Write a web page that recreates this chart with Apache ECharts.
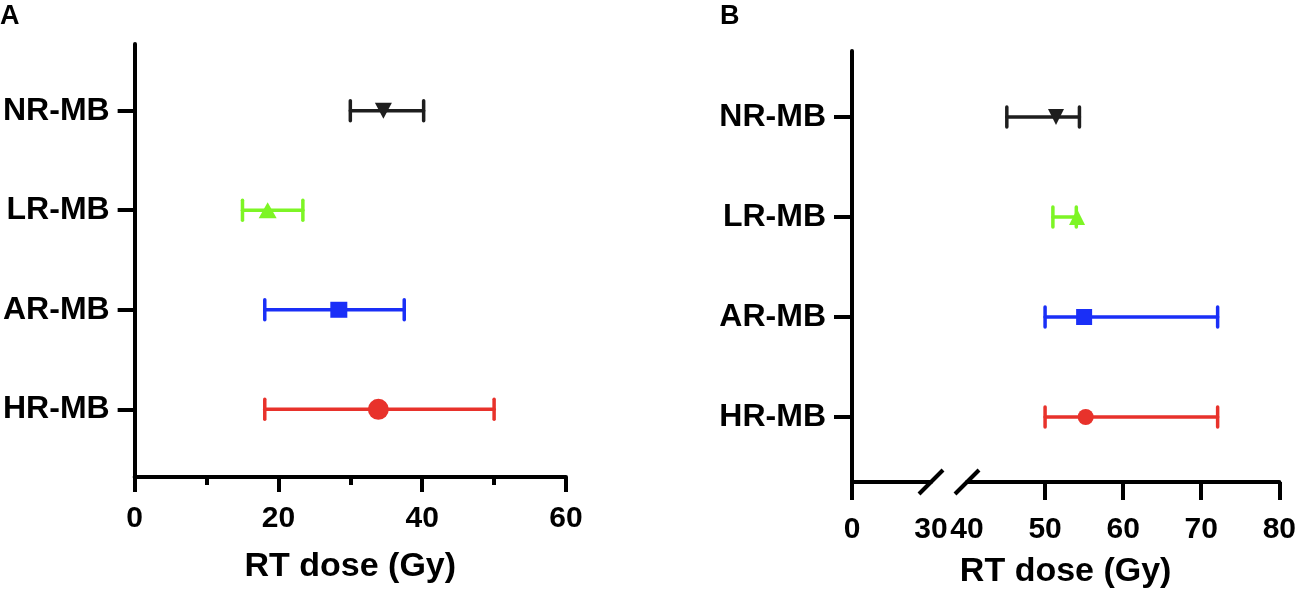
<!DOCTYPE html>
<html><head><meta charset="utf-8">
<script src="https://cdn.jsdelivr.net/npm/echarts@6/dist/echarts.min.js"></script>
<style>html,body{margin:0;padding:0;background:#fff}#c{width:1299px;height:601px}</style>
</head><body><div id="c"></div>
<script>
// ---- data ----
const categories = ['HR-MB', 'AR-MB', 'LR-MB', 'NR-MB'];
const catPos = [1, 2, 3, 4];
// Panel A (RT dose, Gy)
const aMean = [33.9, 28.4, 18.5, 34.6];
const aLow  = [18.1, 18.1, 15.0, 30.0];
const aHigh = [50.0, 37.5, 23.4, 40.2];
// Panel B (RT dose, Gy)
const bMean = [55.2, 55.0, 54.1, 51.4];
const bLow  = [50.0, 50.0, 51.0, 45.1];
const bHigh = [72.1, 72.1, 54.0, 54.4];
// tick labels
const aTickLabels = [0, 20, 40, 60];
const bLeftTickLabels = [0, 30];
const bRightTickLabels = [40, 50, 60, 70, 80];
const bRightTicks = [50, 60, 70, 80];
const axisTitle = 'RT dose (Gy)';

// ---- styles ----
const colors = ['#E8322B', '#1A2FF7', '#7DF525', '#1E1E1E'];
const symbols = ['circle', 'rect', 'triangle', 'triangle'];
const rotations = [0, 0, 0, 180];
const aSizes = [[21, 21], [17, 16], [18, 16], [17, 16]];
const bSizes = [[16, 16], [16, 16], [16, 16], [16, 16]];
const FONT = '"Liberation Sans", Arial, sans-serif';
const AX = '#000';

function errSeries(low, high, xi, yi) {
  return {
    type: 'custom', xAxisIndex: xi, yAxisIndex: yi, z: 2,
    data: low.map((l, i) => [l, high[i], catPos[i], i]),
    encode: { x: [0, 1], y: 2 },
    renderItem(params, api) {
      const lo = api.coord([api.value(0), api.value(2)]);
      const hi = api.coord([api.value(1), api.value(2)]);
      const h = 10;
      const style = { stroke: colors[api.value(3)], lineWidth: 3.5, lineCap: 'round' };
      return { type: 'group', children: [
        { type: 'line', shape: { x1: lo[0], y1: lo[1], x2: hi[0], y2: hi[1] }, style },
        { type: 'line', shape: { x1: lo[0], y1: lo[1] - h, x2: lo[0], y2: lo[1] + h }, style },
        { type: 'line', shape: { x1: hi[0], y1: hi[1] - h, x2: hi[0], y2: hi[1] + h }, style }
      ]};
    }
  };
}
function pointSeries(mean, sizes, xi, yi) {
  return {
    type: 'scatter', xAxisIndex: xi, yAxisIndex: yi, z: 5,
    data: mean.map((m, i) => ({
      value: [m, catPos[i]], symbol: symbols[i], symbolRotate: rotations[i],
      symbolSize: sizes[i], itemStyle: { color: colors[i], opacity: 1 }
    }))
  };
}
const labelStyle = { color: '#000', fontFamily: FONT, fontWeight: 'bold', fontSize: 30 };
const catLabel = { color: '#000', fontFamily: FONT, fontWeight: 'bold', fontSize: 32 };

const option = {
  animation: false,
  backgroundColor: '#fff',
  grid: [
    { left: 134, top: 44, width: 432, height: 433 },
    { left: 852, top: 51, width: 79, height: 431 },
    { left: 967, top: 51, width: 313, height: 431 }
  ],
  xAxis: [
    { type: 'value', gridIndex: 0, min: 0, max: 60, interval: 20,
      axisLine: { lineStyle: { color: AX, width: 4 } },
      axisTick: { length: 15, lineStyle: { color: AX, width: 4 } },
      minorTick: { show: true, splitNumber: 2, length: 8, lineStyle: { color: AX, width: 4 } },
      splitLine: { show: false },
      axisLabel: Object.assign({ margin: 27, customValues: aTickLabels }, labelStyle),
      name: axisTitle, nameLocation: 'middle', nameGap: 73,
      nameTextStyle: { color: '#000', fontFamily: FONT, fontWeight: 'bold', fontSize: 34 }
    },
    { type: 'value', gridIndex: 1, min: 0, max: 30, interval: 30,
      axisLine: { lineStyle: { color: AX, width: 4 } },
      axisTick: { length: 18, customValues: [0], lineStyle: { color: AX, width: 4 } },
      splitLine: { show: false },
      axisLabel: Object.assign({ margin: 33, customValues: bLeftTickLabels, showMaxLabel: true }, labelStyle)
    },
    { type: 'value', gridIndex: 2, min: 40, max: 80, interval: 10,
      axisLine: { lineStyle: { color: AX, width: 4 } },
      axisTick: { length: 18, customValues: bRightTicks, lineStyle: { color: AX, width: 4 } },
      splitLine: { show: false },
      axisLabel: Object.assign({ margin: 33, customValues: bRightTickLabels, showMinLabel: true }, labelStyle)
    }
  ],
  yAxis: [
    { type: 'value', gridIndex: 0, min: 0.32, max: 4.67,
      axisLine: { show: true, lineStyle: { color: AX, width: 4 } },
      axisTick: { show: true, length: 17, customValues: catPos, lineStyle: { color: AX, width: 4 } },
      splitLine: { show: false },
      axisLabel: Object.assign({ margin: 25, customValues: catPos,
        formatter: v => categories[Math.round(v) - 1] }, catLabel)
    },
    { type: 'value', gridIndex: 1, min: 0.35, max: 4.66,
      axisLine: { show: true, lineStyle: { color: AX, width: 4 } },
      axisTick: { show: true, length: 18, customValues: catPos, lineStyle: { color: AX, width: 4 } },
      splitLine: { show: false },
      axisLabel: Object.assign({ margin: 26, customValues: catPos,
        formatter: v => categories[Math.round(v) - 1] }, catLabel)
    },
    { type: 'value', gridIndex: 2, min: 0.35, max: 4.66, show: false, splitLine: { show: false } }
  ],
  series: [
    errSeries(aLow, aHigh, 0, 0),
    pointSeries(aMean, aSizes, 0, 0),
    errSeries(bLow, bHigh, 2, 2),
    pointSeries(bMean, bSizes, 2, 2)
  ]
};

const chart = echarts.init(document.getElementById('c'), null, { renderer: 'canvas' });
chart.setOption(option);

// decorations: panel letters, panel B axis title, break marks
const p30 = chart.convertToPixel({ xAxisIndex: 1 }, 30);
const p40 = chart.convertToPixel({ xAxisIndex: 2 }, 40);
const p0 = chart.convertToPixel({ xAxisIndex: 1 }, 0);
const p80 = chart.convertToPixel({ xAxisIndex: 2 }, 80);
const yAxisB = chart.convertToPixel({ yAxisIndex: 1 }, 0.35);
const s = 12;
const slash = x => ({ type: 'line', z: 10,
  shape: { x1: x - s, y1: yAxisB + s, x2: x + s, y2: yAxisB - s },
  style: { stroke: '#000', lineWidth: 4 } });
chart.setOption({
  graphic: [
    { type: 'text', left: 0, top: 3, style: { text: 'A', fontFamily: FONT, fontWeight: 'bold', fontSize: 27, fill: '#000' } },
    { type: 'text', left: 720, top: 3, style: { text: 'B', fontFamily: FONT, fontWeight: 'bold', fontSize: 27, fill: '#000' } },
    { type: 'text', x: (p0 + p80) / 2, y: yAxisB + 73,
      style: { text: axisTitle, fontFamily: FONT, fontWeight: 'bold', fontSize: 34, fill: '#000',
        align: 'center', verticalAlign: 'top' } },
    slash(p30), slash(p40)
  ]
});
</script>
</body></html>
